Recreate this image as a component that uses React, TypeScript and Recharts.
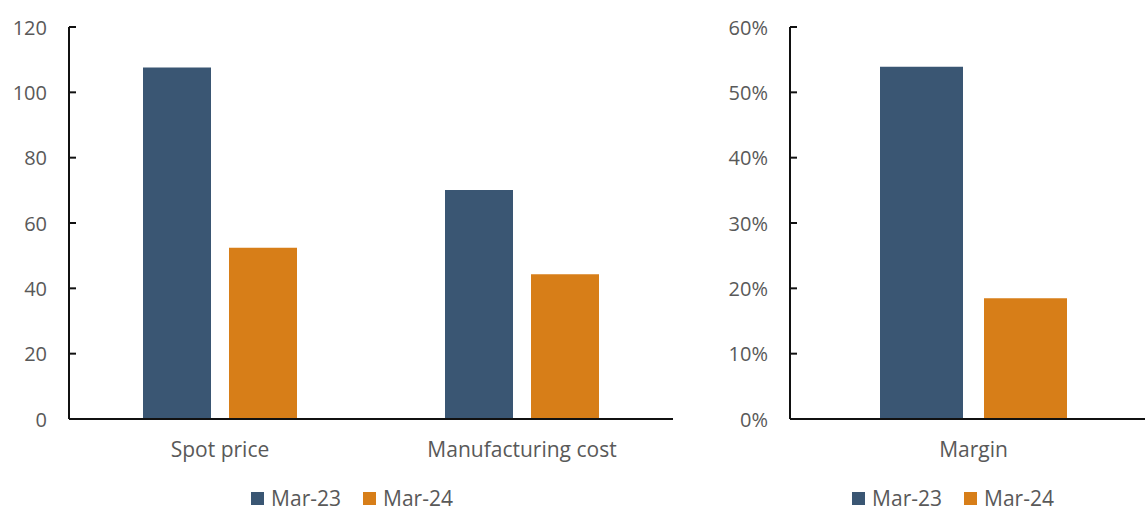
import React from 'react';
import { BarChart, Bar, XAxis, YAxis } from 'recharts';

const categories = ['Spot price', 'Manufacturing cost'];
const mar23Values = [107.6, 70.1];
const mar24Values = [52.4, 44.3];

const marginCategories = ['Margin'];
const marginMar23 = [53.9];
const marginMar24 = [18.5];

const priceTicks = [0, 20, 40, 60, 80, 100, 120];
const marginTicks = [0, 10, 20, 30, 40, 50, 60];

const seriesNames = ['Mar-23', 'Mar-24'];
const seriesColors = ['#3A5673', '#D77E18'];

const FONT = '"Open Sans", "Noto Sans", sans-serif';
const TEXT_COLOR = '#595959';
const AXIS_COLOR = '#111';

const priceData = categories.map((name, i) => ({ name, mar23: mar23Values[i], mar24: mar24Values[i] }));
const marginData = marginCategories.map((name, i) => ({ name, mar23: marginMar23[i], mar24: marginMar24[i] }));

const makeYTick = (suffix: string) => (props: any) => {
  const { x, y, payload } = props;
  return (
    <g>
      <line x1={x} x2={x + 7} y1={y} y2={y} stroke={AXIS_COLOR} strokeWidth={2} />
      <text x={x - 22} y={y} textAnchor="end" dominantBaseline="central" fill={TEXT_COLOR} fontSize={20} fontFamily={FONT}>
        {payload.value}{suffix}
      </text>
    </g>
  );
};

const LegendRow: React.FC<{ left: number; width: number }> = ({ left, width }) => (
  <div
    style={{
      position: 'absolute',
      left,
      width,
      top: 488,
      height: 21,
      display: 'flex',
      justifyContent: 'center',
      alignItems: 'center',
      fontFamily: FONT,
      fontSize: 21,
      lineHeight: '21px',
      color: TEXT_COLOR,
    }}
  >
    {seriesNames.map((s, i) => (
      <div key={s} style={{ display: 'flex', alignItems: 'center', marginRight: i === 0 ? 22 : 0 }}>
        <span style={{ width: 13, height: 13, background: seriesColors[i], marginRight: 7, display: 'inline-block' }} />
        <span>{s}</span>
      </div>
    ))}
  </div>
);

export default function App() {
  return (
    <div
      style={{
        position: 'absolute',
        left: 0,
        top: 0,
        width: 1145,
        height: 512,
        overflow: 'hidden',
        background: '#fff',
        fontFamily: FONT,
      }}
    >
      <div style={{ position: 'absolute', left: 0, top: 0 }}>
        <BarChart width={700} height={512} data={priceData} margin={{ top: 27, right: 27, bottom: 33, left: 0 }} barSize={68} barGap={18}>
          <XAxis
            dataKey="name"
            axisLine={{ stroke: AXIS_COLOR, strokeWidth: 2 }}
            tickLine={false}
            tickSize={0}
            tickMargin={23}
            height={60}
            tick={{ fill: TEXT_COLOR, fontSize: 21, fontFamily: FONT }}
          />
          <YAxis
            width={69}
            domain={[0, 120]}
            ticks={priceTicks}
            interval={0}
            axisLine={{ stroke: AXIS_COLOR, strokeWidth: 2 }}
            tickLine={false}
            tickSize={0}
            tickMargin={0}
            tick={makeYTick('')}
          />
          <Bar dataKey="mar23" name={seriesNames[0]} fill={seriesColors[0]} isAnimationActive={false} />
          <Bar dataKey="mar24" name={seriesNames[1]} fill={seriesColors[1]} isAnimationActive={false} />
        </BarChart>
      </div>
      <LegendRow left={0} width={704} />

      <div style={{ position: 'absolute', left: 700, top: 0 }}>
        <BarChart width={457} height={512} data={marginData} margin={{ top: 27, right: 0, bottom: 33, left: 0 }} barSize={83} barGap={21}>
          <XAxis
            dataKey="name"
            axisLine={{ stroke: AXIS_COLOR, strokeWidth: 2 }}
            tickLine={false}
            tickSize={0}
            tickMargin={23}
            height={60}
            tick={{ fill: TEXT_COLOR, fontSize: 21, fontFamily: FONT }}
          />
          <YAxis
            width={90}
            domain={[0, 60]}
            ticks={marginTicks}
            interval={0}
            axisLine={{ stroke: AXIS_COLOR, strokeWidth: 2 }}
            tickLine={false}
            tickSize={0}
            tickMargin={0}
            tick={makeYTick('%')}
          />
          <Bar dataKey="mar23" name={seriesNames[0]} fill={seriesColors[0]} isAnimationActive={false} />
          <Bar dataKey="mar24" name={seriesNames[1]} fill={seriesColors[1]} isAnimationActive={false} />
        </BarChart>
      </div>
      <LegendRow left={750} width={406} />
    </div>
  );
}
